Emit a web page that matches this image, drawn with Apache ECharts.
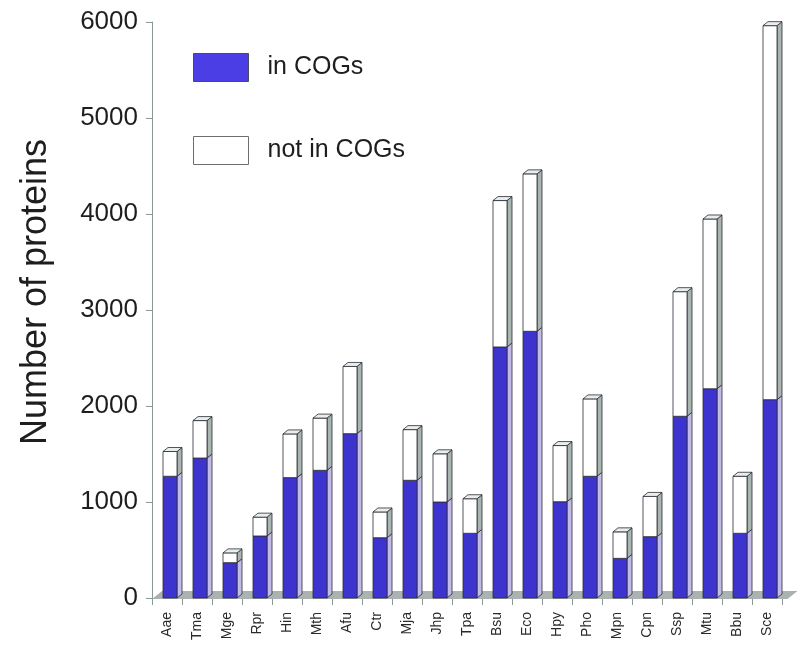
<!DOCTYPE html>
<html><head><meta charset="utf-8">
<script src="https://cdn.jsdelivr.net/npm/echarts@6/dist/echarts.min.js"></script>
<style>html,body{margin:0;padding:0;background:#fff}#c{width:800px;height:649px}</style>
</head><body><div id="c"></div>
<script>
const categories = ['Aae','Tma','Mge','Rpr','Hin','Mth','Afu','Ctr','Mja','Jhp','Tpa','Bsu','Eco','Hpy','Pho','Mpn','Cpn','Ssp','Mtu','Bbu','Sce'];
const inCOGs      = [1268,1458,368,646,1254,1330,1712,628,1226,1000,674,2615,2778,1003,1268,413,639,1893,2180,674,2066];
const notInCOGs   = [ 258, 390,102,196, 455, 544, 700,268, 528, 502,360,1525,1640, 585, 806,276,419,1298,1768,594,3896];
const yTicks      = [0,1000,2000,3000,4000,5000,6000];

const W = 14, DX = 5, DY = 4, SHIFT = 3;
const EDGE = '#2b2b35';

function makeRender(front, side, cap) {
  return function (params, api) {
    const i = api.value(0);
    const b = api.coord([i, api.value(1)]);
    const t = api.coord([i, api.value(2)]);
    const x0 = b[0] - W / 2 + SHIFT, x1 = x0 + W;
    const children = [
      {type: 'polygon', shape: {points: [[x1, t[1]], [x1 + DX, t[1] - DY], [x1 + DX, b[1] - DY], [x1, b[1]]]},
        style: {fill: side, stroke: EDGE, lineWidth: 0.8}},
      {type: 'rect', shape: {x: x0, y: t[1], width: W, height: b[1] - t[1]},
        style: {fill: front, stroke: EDGE, lineWidth: 0.8}}
    ];
    if (cap) {
      children.push({type: 'polygon', shape: {points: [[x0, t[1]], [x0 + DX, t[1] - DY], [x1 + DX, t[1] - DY], [x1, t[1]]]},
        style: {fill: cap, stroke: EDGE, lineWidth: 0.8}});
    }
    return {type: 'group', children};
  };
}

function renderFloor(params, api) {
  const i = api.value(0);
  const p = api.coord([i, 0]);
  const bw = api.size([1, 0])[0];
  const l = p[0] - bw / 2, r = p[0] + bw / 2;
  const FD = 10, FH = 7;
  const last = i === categories.length - 1 ? 5 : 0;
  return {type: 'polygon', shape: {points: [[l, p[1] + 1], [r + 0.5 + last, p[1] + 1], [r + FD + 0.5 + last, p[1] - FH], [l + FD, p[1] - FH]]},
    style: {fill: '#a9b2b0', stroke: null}};
}

const blueData = categories.map((c, i) => [i, 0, inCOGs[i]]);
const whiteData = categories.map((c, i) => [i, inCOGs[i], inCOGs[i] + notInCOGs[i]]);
const floorData = categories.map((c, i) => [i, 0]);

const chart = echarts.init(document.getElementById('c'), null, {renderer: 'canvas'});
chart.setOption({
  backgroundColor: '#ffffff',
  animation: false,
  textStyle: {fontFamily: 'Liberation Sans, Arial, sans-serif'},
  grid: {left: 152, right: 18, top: 22, bottom: 51, containLabel: false},
  legend: {
    orient: 'vertical', left: 188, top: 48,
    itemWidth: 55, itemHeight: 28, itemGap: 54,
    textStyle: {fontSize: 25, color: '#1e1e1e', padding: [0, 0, 0, 14]},
    data: [
      {name: 'in COGs', icon: 'rect', itemStyle: {color: '#4a3ee4', borderColor: '#4a4a60', borderWidth: 1}},
      {name: 'not in COGs', icon: 'rect', itemStyle: {color: '#ffffff', borderColor: '#6a7070', borderWidth: 1}}
    ]
  },
  xAxis: {
    type: 'category', data: categories, boundaryGap: true,
    axisLine: {show: true, lineStyle: {color: '#8c9898', width: 1}},
    axisTick: {show: true, length: 7, lineStyle: {color: '#8c9898'}},
    axisLabel: {rotate: 90, fontSize: 14, color: '#2a2a2a', margin: 14, interval: 0}
  },
  yAxis: {
    type: 'value', min: 0, max: 6000, interval: 1000,
    name: 'Number of proteins', nameLocation: 'middle', nameGap: 98,
    nameTextStyle: {fontSize: 36, color: '#1e1e1e', padding: [0, 0, 0, 36]},
    axisLine: {show: true, lineStyle: {color: '#8c9898', width: 1}},
    axisTick: {show: true, length: 6, lineStyle: {color: '#8c9898'}},
    axisLabel: {fontSize: 26, color: '#1e1e1e', margin: 14,
      formatter: v => (yTicks.indexOf(v) >= 0 ? String(v) : '')},
    splitLine: {show: false}
  },
  series: [
    {type: 'custom', name: 'floor', data: floorData, renderItem: renderFloor, encode: {x: 0, y: 1}, z: 1, silent: true},
    {type: 'custom', name: 'in COGs', data: blueData, renderItem: makeRender('#3d34cf', '#c2bbe8', null),
      encode: {x: 0, y: [1, 2]}, itemStyle: {color: '#4a3ee4'}, z: 2},
    {type: 'custom', name: 'not in COGs', data: whiteData, renderItem: makeRender('#ffffff', '#a9b5b1', '#e8eeec'),
      encode: {x: 0, y: [1, 2]}, itemStyle: {color: '#ffffff'}, z: 3}
  ]
});
</script>
</body></html>
